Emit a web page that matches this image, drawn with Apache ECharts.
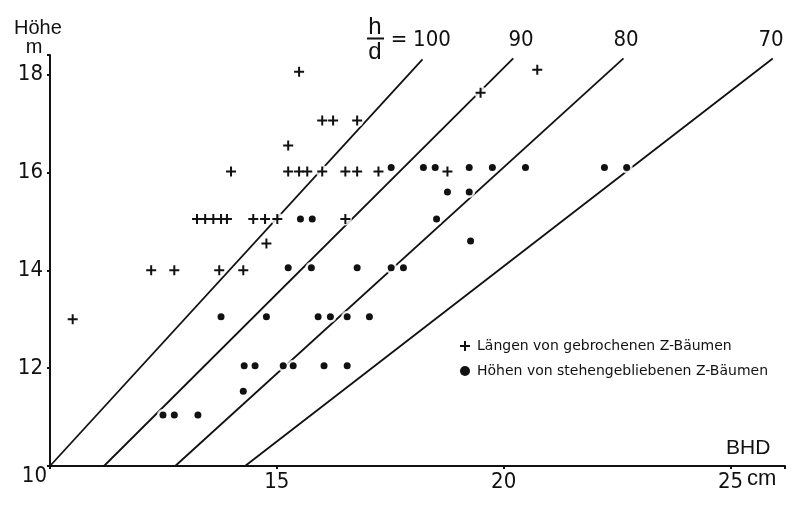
<!DOCTYPE html>
<html><head><meta charset="utf-8">
<script src="https://cdn.jsdelivr.net/npm/echarts@6/dist/echarts.min.js"></script>
<style>html,body{margin:0;padding:0;background:#fff}#c{width:800px;height:509px}</style>
</head><body><div id="c"></div>
<script>
// ---- data ----
const xTicks = [10, 15, 20, 25];
const yTicks = [10, 12, 14, 16, 18];
const ratioLabels = ['100', '90', '80', '70'];
// h/d reference lines: start and end (BHD cm, Höhe m)
const lineStartD = [10, 11.19, 12.76, 14.30];
const lineStartH = [10, 10, 10, 10];
const lineEndD = [18.21, 20.21, 22.64, 25.93];
const lineEndH = [18.31, 18.33, 18.33, 18.33];
// + Längen von gebrochenen Z-Bäumen
const brokenD = [10.5, 12.23, 12.74, 13.73, 14.26, 14.77,
  13.24, 13.42, 13.60, 13.77, 13.90, 14.48, 14.74, 15.01, 16.51,
  13.99, 15.25, 15.49, 15.67, 16.0, 16.51, 16.77, 17.24, 18.76,
  15.25, 16.0, 16.24, 16.77, 15.49, 19.49, 20.74];
const brokenH = [13.0, 14.0, 14.0, 14.0, 14.0, 14.55,
  15.05, 15.05, 15.05, 15.05, 15.05, 15.05, 15.05, 15.05, 15.05,
  16.02, 16.02, 16.02, 16.02, 16.02, 16.02, 16.02, 16.02, 16.02,
  16.55, 17.06, 17.06, 17.06, 18.06, 17.63, 18.1];
// • Höhen von stehengebliebenen Z-Bäumen
const standingD = [17.52, 18.23, 18.49, 19.24, 19.75, 20.48, 22.22, 22.71,
  18.76, 19.24, 15.52, 15.78, 18.52, 19.27,
  15.25, 15.76, 16.77, 17.52, 17.79,
  13.77, 14.77, 15.91, 16.18, 16.55, 17.04,
  14.28, 14.52, 15.14, 15.36, 16.04, 16.55,
  14.26, 12.49, 12.74, 13.26];
const standingH = [16.1, 16.1, 16.1, 16.1, 16.1, 16.1, 16.1, 16.1,
  15.6, 15.6, 15.05, 15.05, 15.05, 14.6,
  14.05, 14.05, 14.05, 14.05, 14.05,
  13.05, 13.05, 13.05, 13.05, 13.05, 13.05,
  12.05, 12.05, 12.05, 12.05, 12.05, 12.05,
  11.53, 11.04, 11.04, 11.04];
const nameBroken = 'Längen von gebrochenen Z-Bäumen';
const nameStanding = 'Höhen von stehengebliebenen Z-Bäumen';

// ---- chart ----
const INK = '#111';
const NARROW = '"DejaVu Sans Condensed", "DejaVu Sans", sans-serif';
const SANS = '"Liberation Sans", Arial, sans-serif';
const plusPath = 'path://M4,0H6V4H10V6H6V10H4V6H0V4H4Z';

const chart = echarts.init(document.getElementById('c'), null, {renderer: 'canvas'});
const brokenData = brokenD.map((d, i) => [d, brokenH[i]]);
const standingData = standingD.map((d, i) => [d, standingH[i]]);

const lineSeries = ratioLabels.map((r, i) => ({
  type: 'line', name: 'hd' + r, silent: true, symbol: 'none', z: 2,
  data: [[lineStartD[i], lineStartH[i]], [lineEndD[i], lineEndH[i]]],
  lineStyle: {color: INK, width: 1.8}
}));

const option = {
  backgroundColor: '#fff',
  animation: false,
  grid: {left: 50, right: 15, top: 55, bottom: 43, containLabel: false},
  xAxis: {
    type: 'value', min: xTicks[0], max: 26.2, interval: 5,
    axisLine: {show: true, onZero: false, lineStyle: {color: INK, width: 2}},
    axisTick: {show: true, length: 3, lineStyle: {color: INK, width: 2}},
    splitLine: {show: false},
    axisLabel: {margin: 5, color: INK, fontSize: 22, fontFamily: NARROW,
      formatter: v => (xTicks.indexOf(v) > 0 ? String(v) : '')}
  },
  yAxis: {
    type: 'value', min: yTicks[0], max: 18.4, interval: 2,
    axisLine: {show: true, onZero: false, lineStyle: {color: INK, width: 2}},
    axisTick: {show: true, length: 3, lineStyle: {color: INK, width: 2}},
    splitLine: {show: false},
    axisLabel: {margin: 7, color: INK, fontSize: 22, fontFamily: NARROW,
      formatter: v => (yTicks.indexOf(v) > 0 ? String(v) : '')}
  },
  legend: {
    orient: 'vertical', left: 455, top: 334, itemWidth: 10, itemHeight: 10, itemGap: 11,
    data: [{name: nameBroken, icon: plusPath}, {name: nameStanding, icon: 'circle'}],
    textStyle: {color: INK, fontSize: 14, fontFamily: '"DejaVu Sans", sans-serif', padding: [0, 0, 0, 2]}
  },
  series: lineSeries.concat([
    {type: 'scatter', name: 'haloB', silent: true, z: 3, symbol: 'circle', symbolSize: 13,
      itemStyle: {color: '#fff'}, data: brokenData},
    {type: 'scatter', name: 'haloS', silent: true, z: 3, symbol: 'circle', symbolSize: 12,
      itemStyle: {color: '#fff'}, data: standingData},
    {type: 'scatter', name: nameBroken, z: 4, symbol: plusPath, symbolSize: 10,
      itemStyle: {color: INK, opacity: 1}, data: brokenData},
    {type: 'scatter', name: nameStanding, z: 4, symbol: 'circle', symbolSize: 7,
      itemStyle: {color: INK, opacity: 1}, data: standingData}
  ]),
  graphic: [
    {type: 'text', style: {text: 'Höhe', x: 14, y: 28, font: '20px ' + SANS, fill: INK, textVerticalAlign: 'middle'}},
    {type: 'text', style: {text: 'm', x: 34, y: 47, font: '20px ' + SANS, fill: INK, textAlign: 'center', textVerticalAlign: 'middle'}},
    {type: 'text', style: {text: '10', x: 47, y: 476, font: '22px ' + NARROW, fill: INK, textAlign: 'right', textVerticalAlign: 'middle'}},
    {type: 'text', style: {text: 'BHD', x: 726, y: 448, font: '21px ' + SANS, fill: INK, textVerticalAlign: 'middle'}},
    {type: 'text', style: {text: 'cm', x: 747, y: 479, font: '22px ' + SANS, fill: INK, textVerticalAlign: 'middle'}},
    {type: 'text', style: {text: 'h', x: 375, y: 27, font: '24px ' + SANS, fill: INK, textAlign: 'center', textVerticalAlign: 'middle'}},
    {type: 'line', shape: {x1: 367, y1: 38.5, x2: 384, y2: 38.5}, style: {stroke: INK, lineWidth: 2}},
    {type: 'text', style: {text: 'd', x: 375, y: 52, font: '24px ' + SANS, fill: INK, textAlign: 'center', textVerticalAlign: 'middle'}},
    {type: 'text', style: {text: '=', x: 399, y: 40, font: '22px ' + NARROW, fill: INK, textAlign: 'center', textVerticalAlign: 'middle'}}
  ].concat(ratioLabels.map((r, i) => ({
    type: 'text', style: {text: r, x: [432, 521, 626, 771][i], y: 40, font: '22px ' + NARROW, fill: INK, textAlign: 'center', textVerticalAlign: 'middle'}
  })))
};
chart.setOption(option);
</script>
</body></html>
